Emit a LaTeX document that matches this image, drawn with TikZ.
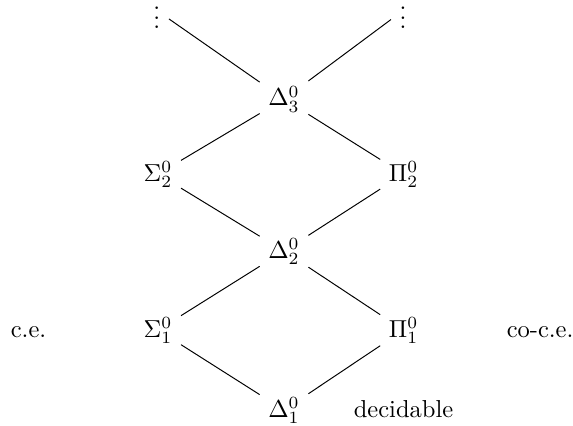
\documentclass[tikz,border=0pt]{standalone}
\usepackage{amsmath,amssymb}
\usepackage{tikz}
\tikzset{every node/.append style={anchor=base}}

\begin{document}
\begin{tikzpicture}
\useasboundingbox (0,0) rectangle (8.217,6.095);
\node (D1) at (4.073,0.115) {$\Delta^0_1$};
\node (S1) at (2.266,1.262) {$\Sigma^0_1$}; \node (P1) at (5.787,1.262) {$\Pi^0_1$};
\node (D2) at (4.073,2.395) {$\Delta^0_2$};
\node (S2) at (2.266,3.499) {$\Sigma^0_2$}; \node (P2) at (5.787,3.499) {$\Pi^0_2$};
\node (D3) at (4.073,4.575) {$\Delta^0_3$};
\node (vl) at (2.25,5.679) {$\vdots$}; \node (vr) at (5.78,5.679) {$\vdots$};
\node (ce) at (0.409,1.262) {c.e.};
\node (cce) at (7.745,1.262) {co-c.e.};
\node (dec) at (5.787,0.115) {decidable};
\draw (D1)--(S1) (D1)--(P1) (S1)--(D2) (P1)--(D2);
\draw (D2)--(S2) (D2)--(P2) (S2)--(D3) (P2)--(D3);
\draw (D3)--(vl) (D3)--(vr);
\end{tikzpicture}
\end{document}
